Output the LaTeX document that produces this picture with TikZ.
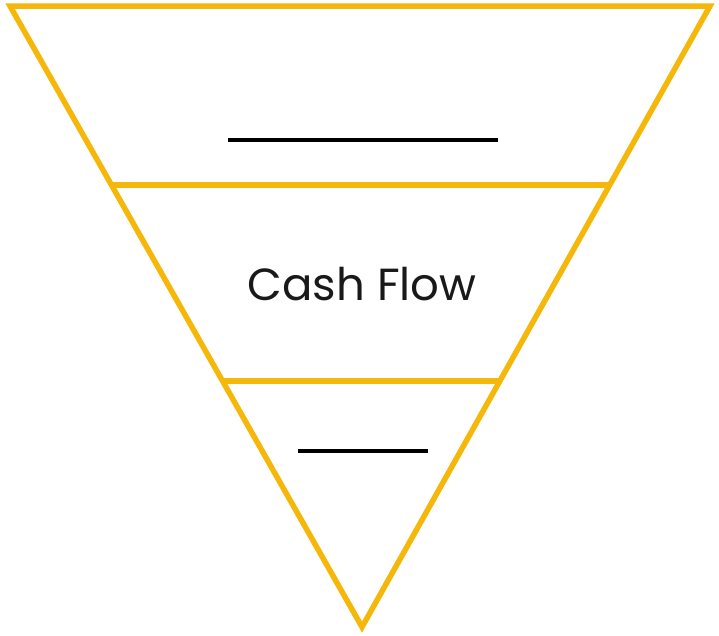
\documentclass[tikz,border=0pt]{standalone}
\usepackage{fontspec}
\setmainfont{Poppins}
\usetikzlibrary{calc}
\definecolor{funnel}{RGB}{245,183,10}
\tikzset{
  edge/.style={draw=funnel, line width=5.5pt, line join=miter},
  blank/.style={draw=black, line width=3.5pt},
}
\begin{document}
\begin{tikzpicture}[x=1pt,y=-1pt]
\useasboundingbox (0,0) rectangle (719,635);
\coordinate (tl) at (10,6);
\coordinate (tr) at (710,6);
\coordinate (ap) at (362,627);
\draw[edge] (tl) -- (tr) -- (ap) -- cycle;
\coordinate (l1) at ($(tl)!0.2882!(ap)$);
\coordinate (r1) at ($(tr)!0.2882!(ap)$);
\coordinate (l2) at ($(tl)!0.6039!(ap)$);
\coordinate (r2) at ($(tr)!0.6039!(ap)$);
\draw[edge] (l1) -- (r1);
\draw[edge] (l2) -- (r2);
\coordinate (b1l) at (228,140);
\coordinate (b1r) at (498,140);
\draw[blank] (b1l) -- (b1r);
\coordinate (b2l) at (298,451);
\coordinate (b2r) at (428,451);
\draw[blank] (b2l) -- (b2r);
\node[font=\fontsize{45}{54}\selectfont, text=black!90, inner sep=0pt] (cf) at (362,284) {Cash Flow};
\end{tikzpicture}
\end{document}
